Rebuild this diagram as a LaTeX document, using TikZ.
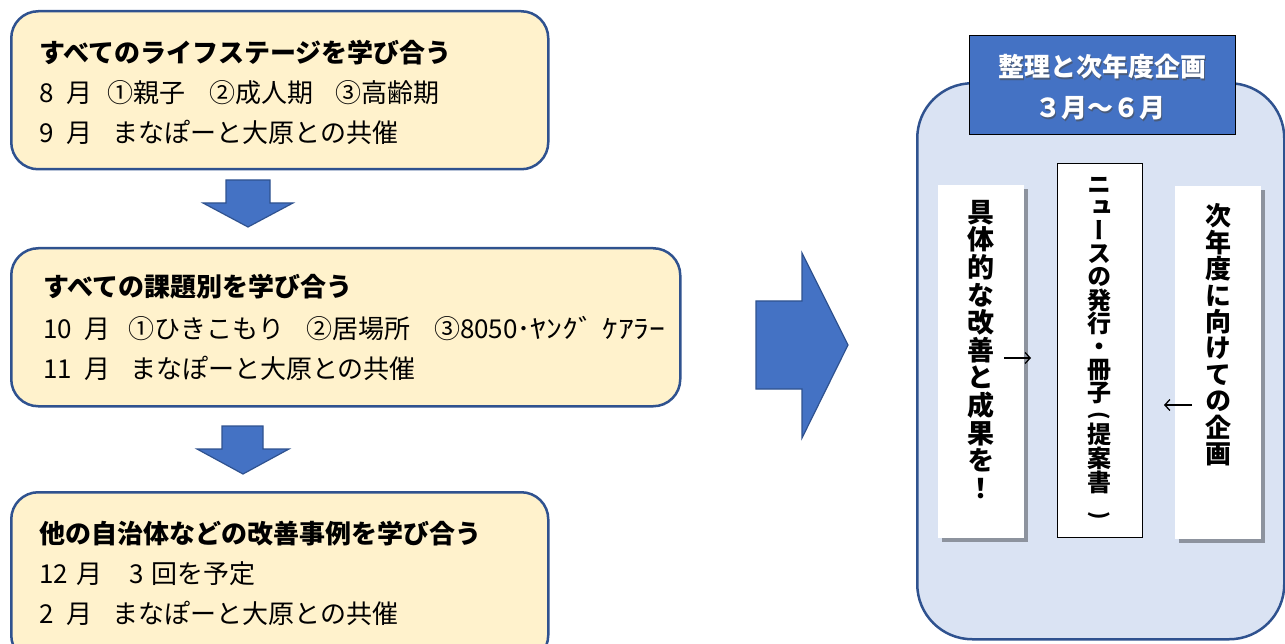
\documentclass[tikz,border=0pt]{standalone}
\usepackage{fontspec}
\setmainfont{Noto Sans CJK JP}
\newfontfamily\vjp[RawFeature={+vert}]{Noto Sans CJK JP}
\usetikzlibrary{shadows,arrows.meta}
\definecolor{boxfill}{HTML}{FFF2CC}
\definecolor{boxline}{HTML}{2F528F}
\definecolor{arrfill}{HTML}{4472C4}
\definecolor{contfill}{HTML}{DAE3F3}
\tikzset{
  ybox/.style={draw=boxline, fill=boxfill, line width=2.5pt, rounded corners=27pt, anchor=north west, inner sep=0pt},
  blockarrow/.style={draw=boxline, fill=arrfill, line width=1.2pt, line join=miter},
  txt/.style={font=\fontsize{26pt}{30pt}\selectfont, inner sep=0pt, anchor=base west},
  cont/.style={draw=boxline, fill=contfill, line width=2.5pt, rounded corners=55pt, anchor=north west, inner sep=0pt},
  titlebox/.style={draw=black, fill=arrfill, line width=1.2pt, anchor=north west, inner sep=0pt},
  wbox/.style={fill=white, draw=none, anchor=north west, inner sep=0pt,
     drop shadow={shadow xshift=4pt, shadow yshift=-4pt, fill=black, opacity=0.35}},
  mbox/.style={fill=white, draw=black, line width=1pt, anchor=north west, inner sep=0pt},
  vch/.style={inner sep=0pt, anchor=base},
  mch/.style={vch, font=\vjp\bfseries\fontsize{24pt}{24pt}\selectfont},
  pch/.style={inner sep=0pt, anchor=center, font=\bfseries\fontsize{21pt}{21pt}\selectfont},
  ttl/.style={font=\bfseries\fontsize{26pt}{30pt}\selectfont, inner sep=0pt, anchor=base},
  smallarrow/.style={line width=1.3pt, -{Straight Barb[length=5pt,width=11pt]}}
}
\begin{document}
\begin{tikzpicture}[x=1pt,y=-1pt]
\useasboundingbox (0,0) rectangle (1285,644);
% left column boxes
\node[ybox, minimum width=537pt, minimum height=158pt] (b1) at (10,10) {};
\node[ybox, minimum width=669pt, minimum height=158pt] (b2) at (10,247) {};
\node[ybox, minimum width=537pt, minimum height=170pt] (b3) at (10,491) {};
% box 1 text
\node[txt] (b1a) at (39,63) {\bfseries すべてのライフステージを学び合う};
\node[txt] (b1b) at (39,103) {8\hspace{13pt}月\hspace{15pt}①親子\hspace{24pt}②成人期\hspace{22pt}③高齢期};
\node[txt] (b1c) at (39,143) {9\hspace{13pt}月\hspace{20pt}まなぽーと大原との共催};
% box 2 text
\node[txt] (b2a) at (43,297) {\bfseries すべての課題別を学び合う};
\node[txt] (b2b) at (43,338) {10\hspace{12pt}月\hspace{18pt}①ひきこもり\hspace{22pt}②居場所\hspace{24pt}③8050･\scalebox{1.22}[1]{ﾔﾝｸﾞ}\hspace{8pt}\scalebox{1.22}[1]{ｹｱﾗｰ}};
\node[txt] (b2c) at (43,378) {11\hspace{12pt}月\hspace{20pt}まなぽーと大原との共催};
% box 3 text
\node[txt] (b3a) at (39,543) {\bfseries 他の自治体などの改善事例を学び合う};
\node[txt] (b3b) at (39,583) {12\hspace{8pt}月\hspace{27pt}3\hspace{8pt}回を予定};
\node[txt] (b3c) at (39,623) {2\hspace{13pt}月\hspace{20pt}まなぽーと大原との共催};
% down arrows
\draw[blockarrow] (226,180) -- (270,180) -- (270,203) -- (293,203) -- (248,227) -- (203,203) -- (226,203) -- cycle;
\draw[blockarrow] (222,426) -- (263,426) -- (263,449) -- (289,449) -- (243,474) -- (197,449) -- (222,449) -- cycle;
% big right arrow
\draw[blockarrow] (756,301) -- (802,301) -- (802,253) -- (848,345) -- (802,438) -- (802,389) -- (756,389) -- cycle;
% right container
\node[cont, minimum width=367pt, minimum height=556pt] (c) at (916,82) {};
\node[titlebox, minimum width=266pt, minimum height=99pt] (t) at (969,35) {};
\node[ttl, text=black!70, opacity=0.6] (t1s) at (1103.5,78.5) {整理と次年度企画};
\node[ttl, text=white] (t1) at (1102,77) {整理と次年度企画};
\node[ttl, text=black!70, opacity=0.6] (t2s) at (1101.5,119.5) {３月～６月};
\node[ttl, text=white] (t2) at (1100,118) {３月～６月};
% white boxes
\node[wbox, minimum width=86pt, minimum height=353pt] (L) at (938,185) {};
\node[mbox, minimum width=85pt, minimum height=374pt] (M) at (1057,163) {};
\node[wbox, minimum width=86pt, minimum height=353pt] (R) at (1175,186) {};
% vertical texts
\foreach \c [count=\i from 0] in {具,体,的,な,改,善,と,成,果,を,！}
  \node[vch, font=\vjp\bfseries\fontsize{27pt}{27pt}\selectfont] (Lc\i) at (981, 222.3+\i*27.6) {\c};
\foreach \c [count=\i from 0] in {ニ,ュ,ー,ス,の,発,行,・,冊,子}
  \node[mch] (Mc\i) at (1099.5, 194+\i*23) {\c};
\node[pch] (Mc10) at (1099.5, 416) {\rotatebox{-90}{(}};
\node[mch] (Mc11) at (1099.5, 443) {提};
\node[mch] (Mc12) at (1099.5, 467) {案};
\node[mch] (Mc13) at (1099.5, 491) {書};
\node[pch] (Mc14) at (1099.5, 516) {\rotatebox{-90}{)}};
\foreach \c [count=\i from 0] in {次,年,度,に,向,け,て,の,企,画}
  \node[vch, font=\vjp\bfseries\fontsize{26pt}{26pt}\selectfont] (Rc\i) at (1218, 225.9+\i*26.4) {\c};
% small arrows
\coordinate (la1) at (1004,358);
\coordinate (la2) at (1031,358);
\coordinate (ra1) at (1192,405);
\coordinate (ra2) at (1164,405);
\draw[smallarrow] (la1) -- (la2);
\draw[smallarrow] (ra1) -- (ra2);
\end{tikzpicture}
\end{document}
